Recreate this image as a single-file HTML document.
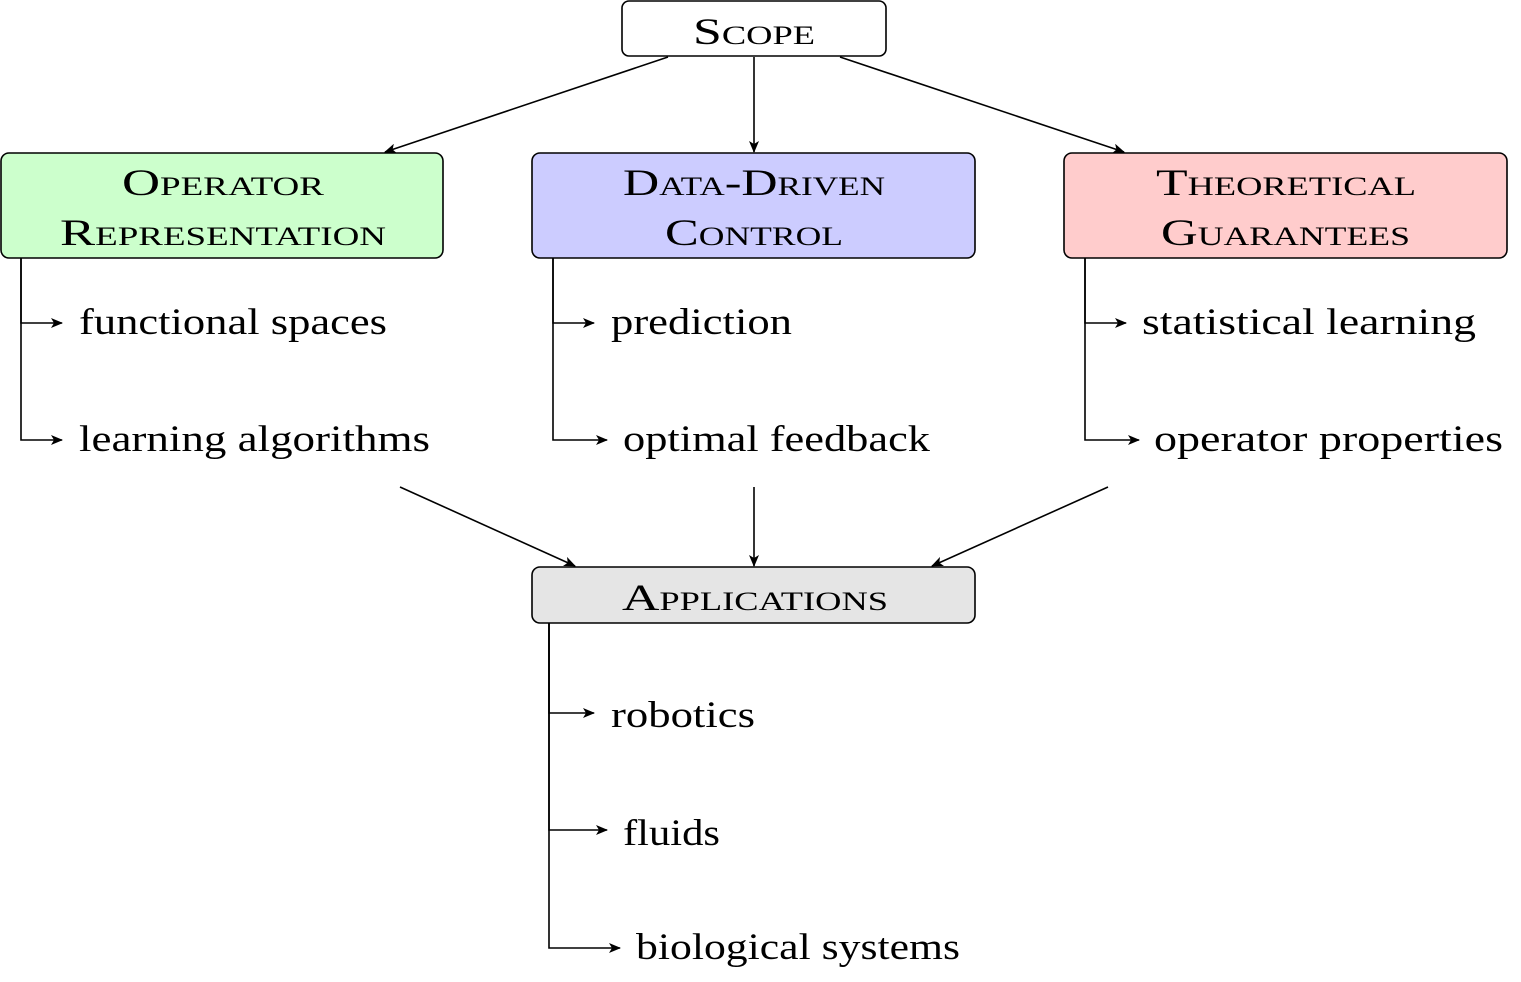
<!DOCTYPE html>
<html><head><meta charset="utf-8"><style>
html,body{margin:0;padding:0;background:#fff;}
svg{display:block;}
text{font-family:"Liberation Serif",serif;fill:#000;}
.sc{font-variant:small-caps;font-size:37px;}
.t{font-size:37px;}
</style></head><body>
<svg width="1521" height="982" viewBox="0 0 1521 982" xmlns="http://www.w3.org/2000/svg">
<defs>
<marker id="a" markerWidth="12" markerHeight="10" refX="11" refY="5" orient="auto" markerUnits="userSpaceOnUse">
<path d="M0,0 L12,5 L0,10 L3,5 Z" fill="#000"/>
</marker>
</defs>
<g stroke="#000" stroke-width="1.6">
<rect x="622" y="1" width="264" height="55" rx="7" fill="#fff"/>
<rect x="1" y="153" width="442" height="105" rx="8" fill="#ccffcc"/>
<rect x="532" y="153" width="443" height="105" rx="8" fill="#ccccff"/>
<rect x="1064" y="153" width="443" height="105" rx="8" fill="#ffcccc"/>
<rect x="532" y="567" width="443" height="56" rx="8" fill="#e5e5e5"/>
</g>
<g stroke="#000" stroke-width="1.6" fill="none" marker-end="url(#a)">
<line x1="668" y1="57" x2="385" y2="152"/>
<line x1="754" y1="57" x2="754" y2="152"/>
<line x1="840" y1="57" x2="1124" y2="152"/>
<line x1="400" y1="487" x2="575" y2="566"/>
<line x1="754" y1="487" x2="754" y2="566"/>
<line x1="1108" y1="487" x2="932" y2="566"/>
<path d="M21,258 V323 H62"/>
<path d="M21,258 V440 H62"/>
<path d="M553,258 V323 H594"/>
<path d="M553,258 V440 H607"/>
<path d="M1085,258 V323 H1126"/>
<path d="M1085,258 V440 H1139"/>
<path d="M549,623 V713 H594"/>
<path d="M549,623 V830 H607"/>
<path d="M549,623 V948 H620"/>
</g>
<text class="sc" x="693" y="44" textLength="122" lengthAdjust="spacingAndGlyphs">Scope</text>
<text class="sc" x="122" y="195" textLength="202" lengthAdjust="spacingAndGlyphs">Operator</text>
<text class="sc" x="60" y="245" textLength="326" lengthAdjust="spacingAndGlyphs">Representation</text>
<text class="sc" x="623" y="195" textLength="262" lengthAdjust="spacingAndGlyphs">Data-Driven</text>
<text class="sc" x="665" y="245" textLength="178" lengthAdjust="spacingAndGlyphs">Control</text>
<text class="sc" x="1156" y="195" textLength="260" lengthAdjust="spacingAndGlyphs">Theoretical</text>
<text class="sc" x="1161" y="245" textLength="249" lengthAdjust="spacingAndGlyphs">Guarantees</text>
<text class="sc" x="622" y="610" textLength="266" lengthAdjust="spacingAndGlyphs">Applications</text>
<text class="t" x="79" y="334" textLength="308" lengthAdjust="spacingAndGlyphs">functional spaces</text>
<text class="t" x="79" y="451" textLength="351" lengthAdjust="spacingAndGlyphs">learning algorithms</text>
<text class="t" x="611" y="334" textLength="181" lengthAdjust="spacingAndGlyphs">prediction</text>
<text class="t" x="623" y="451" textLength="307" lengthAdjust="spacingAndGlyphs">optimal feedback</text>
<text class="t" x="1142" y="334" textLength="334" lengthAdjust="spacingAndGlyphs">statistical learning</text>
<text class="t" x="1154" y="451" textLength="349" lengthAdjust="spacingAndGlyphs">operator properties</text>
<text class="t" x="611" y="727" textLength="144" lengthAdjust="spacingAndGlyphs">robotics</text>
<text class="t" x="623" y="845" textLength="97" lengthAdjust="spacingAndGlyphs">fluids</text>
<text class="t" x="636" y="959" textLength="324" lengthAdjust="spacingAndGlyphs">biological systems</text>
</svg>
</body></html>
